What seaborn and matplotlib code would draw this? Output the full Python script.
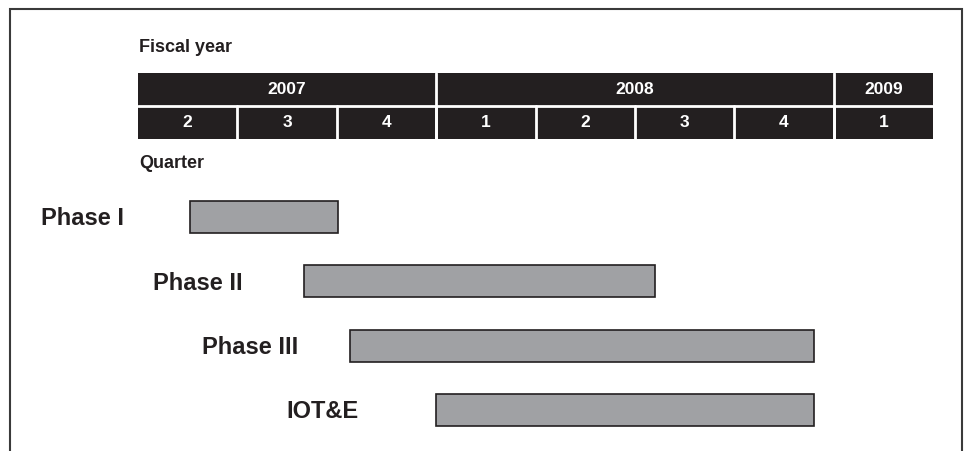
# Gantt-style schedule chart: fiscal year / quarter header with phase bars
import numpy as np
import pandas as pd
import seaborn as sns
import matplotlib.pyplot as plt
from matplotlib.patches import Rectangle

sns.set_theme(style="white")
plt.rcParams['font.family'] = ['Liberation Sans', 'DejaVu Sans']

# Datos
# ==============================================================================
years = ["2007", "2008", "2009"]
year_quarters = [3, 4, 1]                      # quarters shown per fiscal year
quarters = ["2", "3", "4", "1", "2", "3", "4", "1"]
phases = ["Phase I", "Phase II", "Phase III", "IOT&E"]
start_q = [0.52, 1.67, 2.13, 3.0]               # start, in quarters from left edge
end_q = [2.01, 5.2, 6.8, 6.8]                   # end, in quarters

df = pd.DataFrame({"phase": phases, "start": start_q, "end": end_q})
df["dur"] = df["end"] - df["start"]

dark = "#231f20"
bar_grey = "#a0a1a4"

fig = plt.figure(figsize=(9.67, 4.51), dpi=100)
ax = fig.add_axes([0, 0, 1, 1])

sns.barplot(data=df, x="dur", y="phase", orient="h", order=phases,
            left=df["start"].to_numpy(), width=0.5, color=bar_grey,
            saturation=1, edgecolor=dark, linewidth=1.2, ax=ax)

# x: 1 unit = 1 quarter (99.4 px), header from px 138 to 933
# y: 1 unit = 64.3 px, row 0 centred at px 217
px_per_q = 99.375
x0 = 138
ax.set_xlim(-x0 / px_per_q, (967 - x0) / px_per_q)
py = 64.3
y0 = 217
ax.set_ylim((451 - y0) / py, -y0 / py)
ax.set_axis_off()

# header table
top = (73 - y0) / py
mid = (106 - y0) / py
bot = (139 - y0) / py
nq = len(quarters)
ax.add_patch(Rectangle((0, top), nq, bot - top, facecolor=dark, edgecolor="none", zorder=3))
ax.plot([0, nq], [mid, mid], color="white", lw=2, zorder=4)

pos = 0
for yr, n in zip(years, year_quarters):
    ax.text(pos + n / 2, (top + mid) / 2, yr, color="white", fontsize=12.5,
            fontweight="bold", ha="center", va="center", zorder=5)
    if pos > 0:
        ax.plot([pos, pos], [top, bot], color="white", lw=2, zorder=4)
    pos += n

for i, q in enumerate(quarters):
    ax.text(i + 0.5, (mid + bot) / 2, q, color="white", fontsize=12.5,
            fontweight="bold", ha="center", va="center", zorder=5)
    if i > 0:
        ax.plot([i, i], [mid, bot], color="white", lw=2, zorder=4)

ax.text(0.01, (48 - y0) / py, "Fiscal year", fontsize=13, fontweight="bold",
        color=dark, ha="left", va="center")
ax.text(0.01, (163 - y0) / py, "Quarter", fontsize=13, fontweight="bold",
        color=dark, ha="left", va="center")

# phase labels (right edge, px)
label_right = [124, 243, 298, 359]
for i, (name, r) in enumerate(zip(phases, label_right)):
    ax.text((r - x0) / px_per_q, i + 0.03, name, fontsize=17, fontweight="bold",
            color=dark, ha="right", va="center")

# frame open at the bottom
fx0 = (10 - x0) / px_per_q
fx1 = (962 - x0) / px_per_q
fy0 = (9 - y0) / py
fy1 = (451 - y0) / py
ax.plot([fx0, fx0, fx1, fx1], [fy1, fy0, fy0, fy1], color="#3a3a3a", lw=1.5,
        solid_joinstyle="miter", clip_on=False)

fig.savefig("out.png", dpi=100)
